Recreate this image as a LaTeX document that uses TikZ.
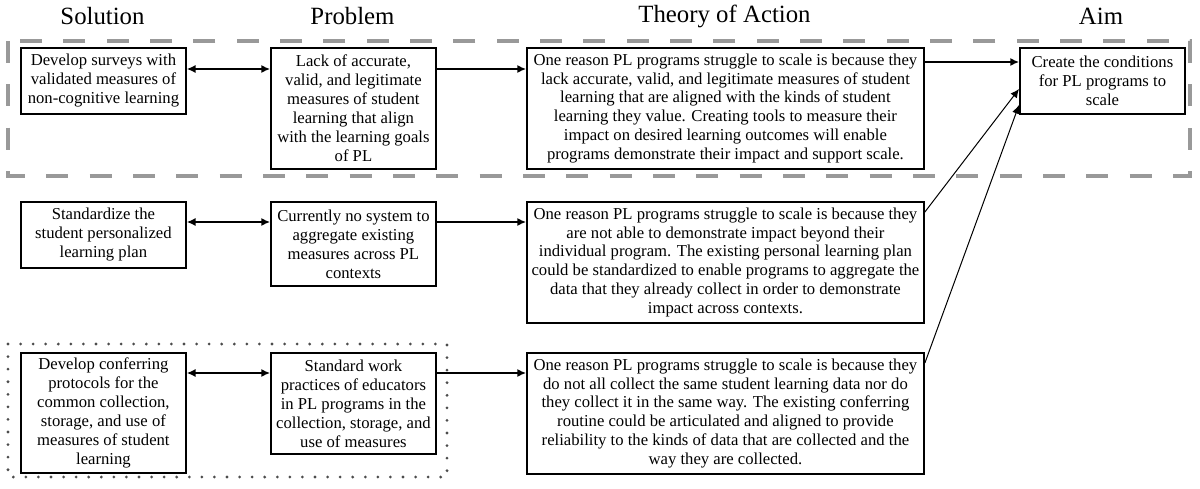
\documentclass[tikz,border=0pt]{standalone}
\usepackage{fontspec}
\setmainfont{Liberation Serif}
\usetikzlibrary{arrows.meta}

\begin{document}
\begin{tikzpicture}[x=0.75pt,y={(0pt,-0.75pt)},
    box/.style={draw,line width=1.4pt,align=center,inner sep=0pt,anchor=north west,
        font=\fontsize{12.5}{14.2}\selectfont},
    narrow/.style={minimum width=123.75pt},
    wide/.style={minimum width=297.75pt},
    head/.style={font=\fontsize{18.6}{22}\selectfont},
    oneway/.style={line width=1pt,-{Latex[length=6.5pt,width=6pt]}},
    twoway/.style={line width=1pt,{Latex[length=6.5pt,width=6pt]}-{Latex[length=6.5pt,width=6pt]}}]
    \useasboundingbox (0,0) rectangle (1200,489);

    \node[head] (hsol) at (102.5,16) {Solution};
    \node[head] (hprob) at (352.5,16) {Problem};
    \node[head] (hth) at (724.5,16) {Theory of Action};
    \node[head] (haim) at (1101,16) {Aim};

    \draw[line width=2.4pt,color=black!40,dash pattern=on 16.5pt off 16pt] (8,41) rectangle (1190,176);
    \draw[line width=2.3pt,color=black!70,line cap=round,dash pattern=on 0pt off 9.4286pt] (8,344) rectangle (447,477);

    \node[box,narrow,minimum height=49.5pt] (sol1) at (20,47) {Develop surveys with\\validated measures of\\non-cognitive learning};
    \node[box,narrow,minimum height=90.75pt] (prob1) at (270,47) {Lack of accurate,\\valid, and legitimate\\measures of student\\learning that align\\with the learning goals\\of PL};
    \node[box,wide,minimum height=90.75pt] (th1) at (526,47) {One reason PL programs struggle to scale is because they\\lack accurate, valid, and legitimate measures of student\\learning that are aligned with the kinds of student\\learning they value. Creating tools to measure their\\impact on desired learning outcomes will enable\\programs demonstrate their impact and support scale.};
    \node[box,narrow,minimum height=49.5pt] (aim) at (1019,47) {Create the conditions\\for PL programs to\\scale};

    \node[box,narrow,minimum height=49.5pt] (sol2) at (20,201) {Standardize the\\student personalized\\learning plan};
    \node[box,narrow,minimum height=63pt] (prob2) at (270,201) {Currently no system to\\aggregate existing\\measures across PL\\contexts};
    \node[box,wide,minimum height=90.75pt] (th2) at (526,201) {One reason PL programs struggle to scale is because they\\are not able to demonstrate impact beyond their\\individual program. The existing personal learning plan\\could be standardized to enable programs to aggregate the\\data that they already collect in order to demonstrate\\impact across contexts.};

    \node[box,narrow,minimum height=90pt] (sol3) at (20,352) {Develop conferring\\protocols for the\\common collection,\\storage, and use of\\measures of student\\learning};
    \node[box,narrow,minimum height=75.75pt] (prob3) at (270,352) {Standard work\\practices of educators\\in PL programs in the\\collection, storage, and\\use of measures};
    \node[box,wide,minimum height=90.75pt] (th3) at (526,352) {One reason PL programs struggle to scale is because they\\do not all collect the same student learning data nor do\\they collect it in the same way. The existing conferring\\routine could be articulated and aligned to provide\\reliability to the kinds of data that are collected and the\\way they are collected.};

    \draw[twoway] ([yshift=-16.5pt]sol1.north east) -- ([yshift=-16.5pt]prob1.north west);
    \draw[oneway] ([yshift=-16.5pt]prob1.north east) -- ([yshift=-16.5pt]th1.north west);
    \draw[oneway] ([yshift=-11.25pt]th1.north east) -- ([yshift=-11.25pt]aim.north west);

    \draw[twoway] ([yshift=-15.75pt]sol2.north east) -- ([yshift=-15.75pt]prob2.north west);
    \draw[oneway] ([yshift=-15.75pt]prob2.north east) -- ([yshift=-15.75pt]th2.north west);
    \draw[oneway,line width=0.75pt] ([yshift=-8.25pt]th2.north east) -- ([yshift=-31.5pt]aim.north west);

    \draw[twoway] ([yshift=-15.75pt]sol3.north east) -- ([yshift=-15.75pt]prob3.north west);
    \draw[oneway] ([yshift=-15.75pt]prob3.north east) -- ([yshift=-15.75pt]th3.north west);
    \draw[oneway,line width=0.75pt] ([yshift=-8.25pt]th3.north east) -- ([yshift=-43.5pt]aim.north west);
\end{tikzpicture}
\end{document}
